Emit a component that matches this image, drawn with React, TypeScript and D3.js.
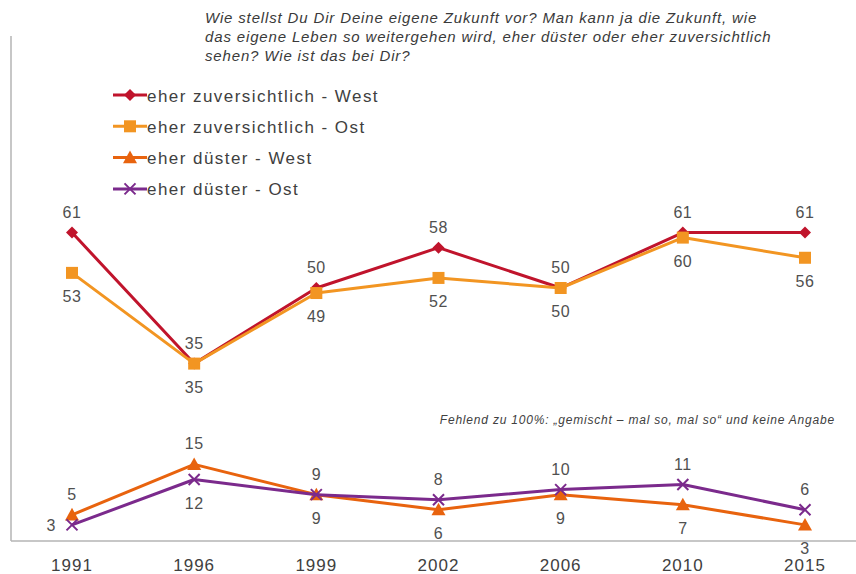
import React from "react";
import * as d3 from "d3";

const years = ["1991", "1996", "1999", "2002", "2006", "2010", "2015"];
const zuversichtlichWest = [61, 35, 50, 58, 50, 61, 61];
const zuversichtlichOst = [53, 35, 49, 52, 50, 60, 56];
const duesterWest = [5, 15, 9, 6, 9, 7, 3];
const duesterOst = [3, 12, 9, 8, 10, 11, 6];

const seriesNames = [
  "eher zuversichtlich - West",
  "eher zuversichtlich - Ost",
  "eher düster - West",
  "eher düster - Ost",
];

const titleLines = [
  "Wie stellst Du Dir Deine eigene Zukunft vor? Man kann ja die Zukunft, wie",
  "das eigene Leben so weitergehen wird, eher düster oder eher zuversichtlich",
  "sehen? Wie ist das bei Dir?",
];
const noteText = "Fehlend zu 100%: „gemischt – mal so, mal so“ und keine Angabe";

const W = 856;
const H = 574;
const FONT = "'Liberation Sans', Arial, Helvetica, sans-serif";

type Shape = "diamond" | "square" | "triangle" | "x";

const series = [
  { name: seriesNames[0], values: zuversichtlichWest, color: "#C0142C", shape: "diamond" as Shape, group: 0 },
  { name: seriesNames[1], values: zuversichtlichOst, color: "#F29522", shape: "square" as Shape, group: 0 },
  { name: seriesNames[2], values: duesterWest, color: "#E8630E", shape: "triangle" as Shape, group: 1 },
  { name: seriesNames[3], values: duesterOst, color: "#7B2A8C", shape: "x" as Shape, group: 1 },
];

function Marker({ shape, x, y, color }: { shape: Shape; x: number; y: number; color: string }) {
  if (shape === "diamond") {
    const s = 6;
    return <path d={`M${x},${y - s}L${x + s},${y}L${x},${y + s}L${x - s},${y}Z`} fill={color} />;
  }
  if (shape === "square") {
    const s = 6;
    return <rect x={x - s} y={y - s} width={2 * s} height={2 * s} fill={color} />;
  }
  if (shape === "triangle") {
    const s = 7;
    return <path d={`M${x},${y - s}L${x + s},${y + s * 0.8}L${x - s},${y + s * 0.8}Z`} fill={color} />;
  }
  const s = 5.5;
  return (
    <path
      d={`M${x - s},${y - s}L${x + s},${y + s}M${x - s},${y + s}L${x + s},${y - s}`}
      stroke={color}
      strokeWidth={2}
      fill="none"
    />
  );
}

export default function App() {
  const x = d3.scalePoint<string>().domain(years).range([72, 805]);
  const y = d3.scaleLinear().domain([0, 100]).range([540, 36]);
  const line = d3
    .line<number>()
    .x((_, i) => x(years[i]) as number)
    .y((d) => y(d));

  // label placement: higher value of each pair above, lower below
  const labels: { x: number; y: number; text: string; anchor: string }[] = [];
  [0, 1].forEach((g) => {
    const pair = series.filter((s) => s.group === g);
    years.forEach((yr, i) => {
      const a = pair[0].values[i];
      const b = pair[1].values[i];
      const px = x(yr) as number;
      const aAbove = a >= b;
      const top = aAbove ? a : b;
      const bot = aAbove ? b : a;
      labels.push({ x: px, y: y(top) - 15, text: String(top), anchor: "middle" });
      if (g === 1 && i === 0) {
        labels.push({ x: px - 16, y: y(bot) + 6, text: String(bot), anchor: "end" });
      } else {
        labels.push({ x: px, y: y(bot) + 29, text: String(bot), anchor: "middle" });
      }
    });
  });

  return (
    <svg width={W} height={H} style={{ position: "absolute", left: 0, top: 0, background: "#fff" }}>
      {/* axes */}
      <line x1={11} x2={11} y1={36} y2={541} stroke="#b5b5b5" strokeWidth={1.5} />
      <line x1={11} x2={W} y1={541} y2={541} stroke="#b5b5b5" strokeWidth={1.5} />

      {/* title */}
      {titleLines.map((t, i) => (
        <text
          key={i}
          x={205}
          y={23 + i * 19}
          fontFamily={FONT}
          fontStyle="italic"
          fontSize={15}
          letterSpacing={0.85}
          fill="#3a3a3a"
        >
          {t}
        </text>
      ))}

      {/* legend */}
      {series.map((s, i) => {
        const ly = 95 + i * 31.3;
        return (
          <g key={s.name}>
            <line x1={113} x2={147} y1={ly} y2={ly} stroke={s.color} strokeWidth={3} />
            <Marker shape={s.shape} x={130} y={ly} color={s.color} />
            <text
              x={147}
              y={ly + 6.5}
              fontFamily={FONT}
              fontSize={17}
              letterSpacing={1.45}
              fill="#404040"
            >
              {s.name}
            </text>
          </g>
        );
      })}

      {/* note */}
      <text
        x={835}
        y={424}
        textAnchor="end"
        fontFamily={FONT}
        fontStyle="italic"
        fontSize={12}
        letterSpacing={0.8}
        fill="#404040"
      >
        {noteText}
      </text>

      {/* lines */}
      {series.map((s) => (
        <g key={s.name}>
          <path d={line(s.values) || ""} fill="none" stroke={s.color} strokeWidth={3} strokeLinejoin="round" />
          {s.values.map((v, i) => (
            <Marker key={i} shape={s.shape} x={x(years[i]) as number} y={y(v)} color={s.color} />
          ))}
        </g>
      ))}

      {/* data labels */}
      {labels.map((l, i) => (
        <text
          key={i}
          x={l.x}
          y={l.y}
          textAnchor={l.anchor as any}
          fontFamily={FONT}
          fontSize={16}
          letterSpacing={0.5}
          fill="#505050"
        >
          {l.text}
        </text>
      ))}

      {/* x ticks */}
      {years.map((yr) => (
        <text
          key={yr}
          x={x(yr) as number}
          y={571}
          textAnchor="middle"
          fontFamily={FONT}
          fontSize={17}
          letterSpacing={1}
          fill="#404040"
        >
          {yr}
        </text>
      ))}
    </svg>
  );
}
